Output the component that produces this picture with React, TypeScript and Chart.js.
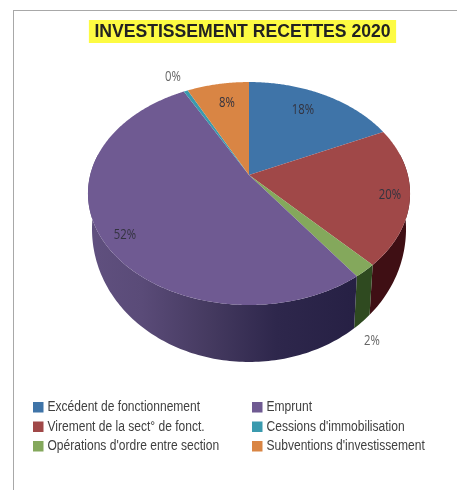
import React, { useEffect, useRef } from "react";
import { Chart, registerables } from "chart.js";

Chart.register(...registerables);

const categories = [
  "Excédent de fonctionnement",
  "Virement de la sect° de fonct.",
  "Opérations d'ordre entre section",
  "Emprunt",
  "Cessions d'immobilisation",
  "Subventions d'investissement",
];
const values = [18, 20, 2, 52.2, 0.5, 7.3];
const valueLabels = ["18%", "20%", "2%", "52%", "0%", "8%"];
const topColors = ["#3f74a8", "#a04848", "#84a85c", "#6f5a92", "#3a9aae", "#d98544"];
const wallColors = ["#20405e", "#3f0f14", "#2f4a20", "#2a2346", "#1e5a68", "#80481c"];
const titleText = "INVESTISSEMENT RECETTES 2020";

// Perspective projection of the pie disc onto the page
const CX = 249, CY = 175, BX = 158.8, AY = 108.4, K = -0.166;
const project = (a: number) => {
  const u = Math.cos(a), v = Math.sin(a), d = 1 + K * v;
  return { x: CX + (BX * u) / d, y: CY + (AY * v) / d, v };
};
const wallBottom = (p: { x: number; y: number; v: number }) => ({
  x: CX + 0.975 * (p.x - CX),
  y: p.y + 31 + 26 * p.v,
});

const labelPos: [number, number][] = [
  [303, 110], [390, 195], [372, 341], [125, 235], [173, 77], [227, 103],
];
const legendCols = [33, 252];
const legendRows = [407, 426.5, 446];
const legendOrder = [[0, 0], [0, 1], [0, 2], [1, 0], [1, 1], [1, 2]];

const pie3d = {
  id: "pie3d",
  beforeDraw(chart: any) {
    const { ctx, width, height } = chart;
    ctx.save();
    ctx.fillStyle = "#ffffff";
    ctx.fillRect(0, 0, width, height);
    ctx.fillStyle = "#a8a8a8";
    ctx.fillRect(13, 10, width - 13, 1);
    ctx.fillRect(13, 10, 1, height - 10);
    const font = chart.options.plugins.title.font;
    ctx.font = `${font.weight} ${font.size}px ${font.family}`;
    const w = ctx.measureText(titleText).width;
    ctx.fillStyle = "#fdfb42";
    ctx.fillRect(chart.titleBlock.left + chart.titleBlock.width / 2 - w / 2 - 5.5, 20, w + 11, 23);
    ctx.restore();
  },
  beforeDatasetDraw(chart: any) {
    const { ctx } = chart;
    const arcs = chart.getDatasetMeta(0).data;
    const step = Math.PI / 180;
    ctx.save();
    // side wall
    arcs.forEach((arc: any, i: number) => {
      const start = Math.max(arc.startAngle, -0.2);
      const end = Math.min(arc.endAngle, Math.PI + 0.2);
      if (end <= start) return;
      const top: any[] = [];
      for (let a = start; a < end; a += step) top.push(project(a));
      top.push(project(end));
      ctx.beginPath();
      top.forEach((p, n) => (n ? ctx.lineTo(p.x, p.y) : ctx.moveTo(p.x, p.y)));
      top.slice().reverse().forEach((p) => {
        const b = wallBottom(p);
        ctx.lineTo(b.x, b.y);
      });
      ctx.closePath();
      if (i === 3) {
        const g = ctx.createLinearGradient(88, 0, 357, 0);
        g.addColorStop(0, "#60507f");
        g.addColorStop(0.2, "#5a4b78");
        g.addColorStop(0.45, "#453a60");
        g.addColorStop(0.7, "#2e274c");
        g.addColorStop(1, "#262044");
        ctx.fillStyle = g;
      } else ctx.fillStyle = wallColors[i];
      ctx.fill();
    });
    // top surface
    arcs.forEach((arc: any, i: number) => {
      ctx.beginPath();
      ctx.moveTo(CX, CY);
      for (let a = arc.startAngle; a < arc.endAngle; a += step / 2) {
        const p = project(a);
        ctx.lineTo(p.x, p.y);
      }
      const e = project(arc.endAngle);
      ctx.lineTo(e.x, e.y);
      ctx.closePath();
      ctx.fillStyle = topColors[i];
      ctx.fill();
    });
    ctx.restore();
    return false;
  },
  afterDraw(chart: any) {
    const { ctx } = chart;
    ctx.save();
    ctx.textBaseline = "middle";
    ctx.textAlign = "center";
    ctx.font = "14.5px 'Open Sans'";
    valueLabels.forEach((t, i) => {
      ctx.save();
      ctx.translate(labelPos[i][0], labelPos[i][1]);
      ctx.scale(0.78, 1);
      ctx.fillStyle = i === 4 || i === 2 ? "#666666" : "#33333f";
      ctx.fillText(t, 0, 0);
      ctx.restore();
    });
    ctx.textAlign = "left";
    ctx.font = "14px 'Liberation Sans'";
    categories.forEach((c, i) => {
      const [col, row] = legendOrder[i];
      const x = legendCols[col], y = legendRows[row];
      ctx.fillStyle = topColors[i];
      ctx.fillRect(x, y - 5, 10.5, 10.5);
      ctx.save();
      ctx.translate(x + 14.5, y + 0.5);
      ctx.scale(0.86, 1);
      ctx.fillStyle = "#404040";
      ctx.fillText(c, 0, 0);
      ctx.restore();
    });
    ctx.restore();
  },
};

export default function App() {
  const ref = useRef<HTMLCanvasElement>(null);
  useEffect(() => {
    const chart = new Chart(ref.current!, {
      type: "pie",
      data: { labels: categories, datasets: [{ data: values, backgroundColor: topColors, borderWidth: 0 }] },
      options: {
        responsive: false,
        animation: false,
        layout: { padding: { left: 28, right: 0, top: 22, bottom: 100 } },
        plugins: {
          legend: { display: false },
          tooltip: { enabled: false },
          title: {
            display: true,
            text: titleText,
            color: "#222222",
            font: { family: "'Liberation Sans'", size: 17.6, weight: "bold" },
            padding: { top: 0, bottom: 0 },
          },
        },
      },
      plugins: [pie3d],
    } as any);
    return () => chart.destroy();
  }, []);
  return (
    <canvas
      ref={ref}
      width={457}
      height={490}
      style={{ position: "fixed", left: 0, top: 0, width: 457, height: 490, display: "block" }}
    />
  );
}
